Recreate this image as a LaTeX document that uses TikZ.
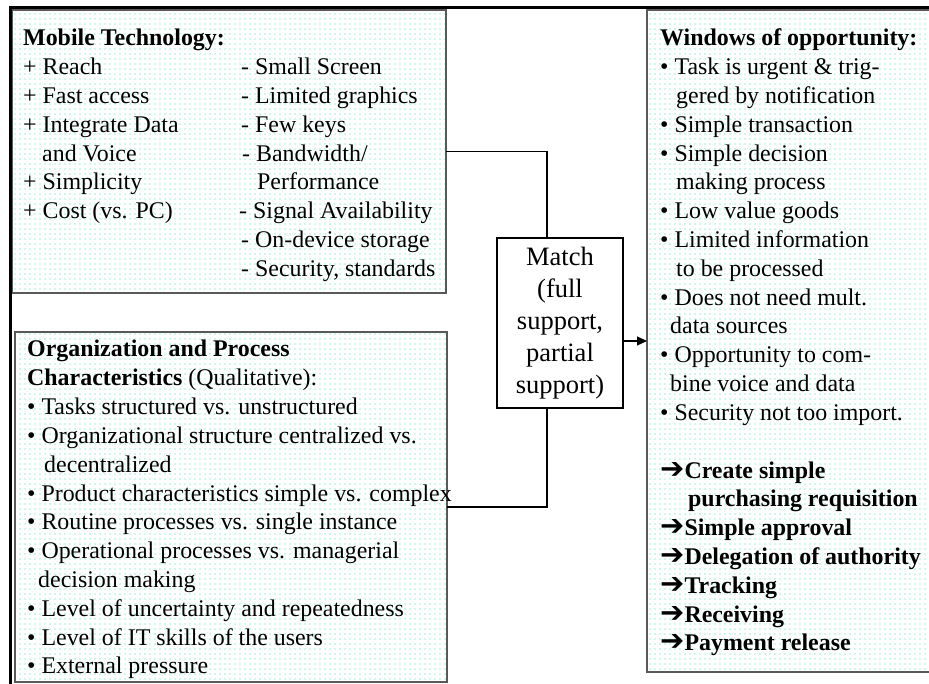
\documentclass[tikz,border=0pt]{standalone}
\usepackage{fontspec}
\setmainfont{Liberation Serif}
\newfontfamily\symfont{DejaVu Sans}
\usetikzlibrary{patterns.meta,arrows.meta}
\definecolor{dotteal}{RGB}{64,224,176}
\newcommand\txt{\fontsize{23.9}{28.8}\selectfont}
\newcommand\arr{{\symfont\bfseries\fontsize{29}{28.8}\selectfont ➔}}

\tikzset{
  box/.style={draw=gray!70!black, line width=1.3pt, inner sep=0pt, outer sep=0pt,
    pattern={Dots[distance=5pt,radius=0.6pt]}, pattern color=dotteal},
  row/.style={anchor=base west, inner sep=0pt, font=\txt},
  link/.style={line width=1.2pt}
}

\begin{document}
\begin{tikzpicture}[x=1pt,y=-1pt]
\fill[white] (0,0) rectangle (929,684);
\clip (0,0) rectangle (929,684);

% boxes
\node[box, minimum width=434pt, minimum height=283pt] (mobile) at (229,151.5) {};
\node[box, minimum width=432pt, minimum height=350pt] (org) at (231,507) {};
\node[box, minimum width=293pt, minimum height=662pt] (window) at (793.5,341) {};
\node[draw, line width=1.2pt, fill=white, inner sep=0pt, outer sep=0pt,
  minimum width=126pt, minimum height=170pt, align=center,
  font=\fontsize{26.5}{32}\selectfont] (match) at (560,323)
  {Match\\(full\\support,\\partial\\support)};

% connectors
\draw[link] (mobile.east) -| ([xshift=-13pt]match.north);
\draw[link] (org.east) -| ([xshift=-13pt]match.south);
\draw[link, -{Triangle[length=10pt,width=9pt]}] (match.east |- window.west) -- (window.west);

% mobile technology
\foreach \x/\t [count=\i from 0] in {23/{\textbf{Mobile Technology:}}, 23/{+ Reach},
  23/{+ Fast access}, 23/{+ Integrate Data}, 42/{and Voice}, 23/{+ Simplicity},
  23/{+ Cost (vs. PC)}}
  \node[row] (mobl-\i) at (\x,46+28.8*\i) {\t};
\foreach \x/\t [count=\i from 1] in {241/{- Small Screen}, 241/{- Limited graphics},
  241/{- Few keys}, 242/{- Bandwidth/}, 257/{Performance}, 239/{- Signal Availability},
  241/{- On-device storage}, 241/{- Security, standards}}
  \node[row] (mobr-\i) at (\x,46+28.8*\i) {\t};

% organization and process
\foreach \x/\t [count=\i from 0] in {27/{\textbf{Organization and Process}},
  27/{\textbf{Characteristics} (Qualitative):},
  27/{• Tasks structured vs. unstructured},
  27/{• Organizational structure centralized vs.}, 44/{decentralized},
  27/{• Product characteristics simple vs. complex},
  27/{• Routine processes vs. single instance},
  27/{• Operational processes vs. managerial}, 38/{decision making},
  27/{• Level of uncertainty and repeatedness},
  27/{• Level of IT skills of the users}, 27/{• External pressure}}
  \node[row] (org-\i) at (\x,357+28.8*\i) {\t};

% windows of opportunity
\foreach \x/\t [count=\i from 0] in {660/{\textbf{Windows of opportunity:}},
  660/{• Task is urgent \& trig-}, 676/{gered by notification},
  660/{• Simple transaction}, 660/{• Simple decision}, 676/{making process},
  660/{• Low value goods}, 660/{• Limited information}, 676/{to be processed},
  660/{• Does not need mult.}, 670/{data sources},
  660/{• Opportunity to com-}, 670/{bine voice and data},
  660/{• Security not too import.}}
  \node[row] (win-\i) at (\x,46+28.8*\i) {\t};
\foreach \x/\t [count=\i from 15] in {660/{\arr\textbf{Create simple}},
  688/{\textbf{purchasing requisition}}, 660/{\arr\textbf{Simple approval}},
  660/{\arr\textbf{Delegation of authority}}, 660/{\arr\textbf{Tracking}},
  660/{\arr\textbf{Receiving}}, 660/{\arr\textbf{Payment release}}}
  \node[row] (win-\i) at (\x,46+28.8*\i) {\t};

% outer frame
\draw[line width=3pt] (935,8) -- (10,8) -- (10,690);
\end{tikzpicture}
\end{document}
